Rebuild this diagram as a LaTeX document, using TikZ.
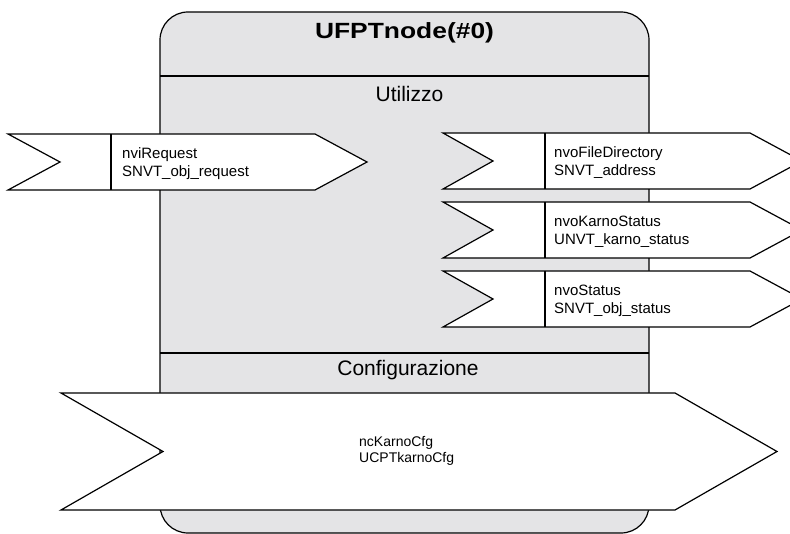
\documentclass[tikz,border=0pt]{standalone}
\usepackage{fontspec}
\setmainfont{Liberation Sans}
\definecolor{boxgray}{RGB}{228,228,230}
\begin{document}
\begin{tikzpicture}[x=1pt,y=-1pt,
  outline/.style={draw=black,line width=1.2pt,line join=miter},
  flag/.style={outline,fill=white},
  divider/.style={draw=black,line width=1.2pt},
  flagtext/.style={anchor=west,inner sep=0pt,align=left,font=\fontsize{15}{18}\selectfont},
  cfgtext/.style={anchor=west,inner sep=0pt,align=left,font=\fontsize{14}{16}\selectfont},
  sectiontext/.style={inner sep=0pt,font=\fontsize{21}{24}\selectfont},
  titletext/.style={inner sep=0pt,font=\fontsize{22}{26}\selectfont\bfseries}]
\clip (0,0) rectangle (790,534);
% main block
\draw[outline,fill=boxgray,rounded corners=28pt] (160,12) rectangle (649,533);
\draw[divider] (160,76) -- (649,76);
\draw[divider] (160,353) -- (649,353);
\node[titletext] (title) at (404.5,32.5) {\scalebox{1.2}[1]{UFPTnode(\#0)}};
\node[sectiontext] (util) at (409.5,94) {Utilizzo};
\node[sectiontext] (conf) at (408,370) {Configurazione};
% input flag
\draw[flag] (8,134) -- (315,134) -- (367,162) -- (315,190) -- (8,190) -- (60,162) -- cycle;
\draw[divider] (111,134) -- (111,190);
\node[flagtext] (nvi) at (122,163.5) {nviRequest\\SNVT\_obj\_request};
% output flags
\foreach \t/\nm/\txt in {133/fdir/{nvoFileDirectory\\SNVT\_address},
                        202/kstat/{nvoKarnoStatus\\UNVT\_karno\_status},
                        271/ostat/{nvoStatus\\SNVT\_obj\_status}}{
  \pgfmathsetmacro{\b}{\t+56}
  \pgfmathsetmacro{\m}{\t+28}
  \pgfmathsetmacro{\tm}{\t+29.5}
  \draw[flag] (443,\t) -- (750,\t) -- (802,\m) -- (750,\b) -- (443,\b) -- (493,\m) -- cycle;
  \draw[divider] (545,\t) -- (545,\b);
  \node[flagtext] (\nm) at (554,\tm) {\txt};
}
% configuration flag
\draw[flag] (61,393) -- (675,393) -- (777,451.5) -- (675,510) -- (61,510) -- (163,451.5) -- cycle;
\node[cfgtext] (cfg) at (359,451) {ncKarnoCfg\\UCPTkarnoCfg};
\end{tikzpicture}
\end{document}
